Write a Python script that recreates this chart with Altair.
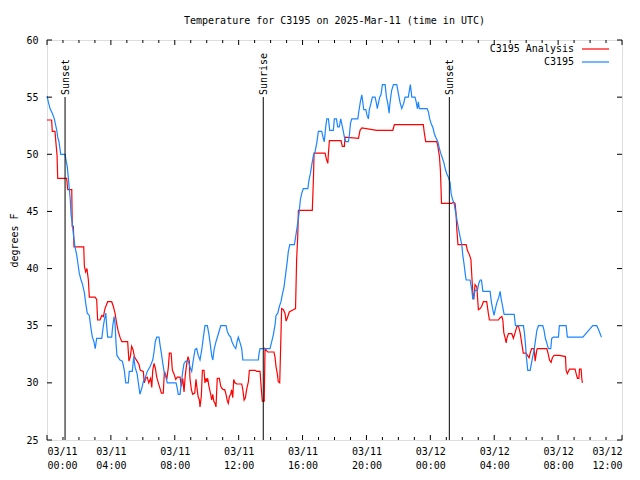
import altair as alt
import pandas as pd

# hours since 2025-03-11 00:00 UTC, temperature in degrees F
blue_h = [0.00, 0.08, 0.19, 0.33, 0.46, 0.61, 0.67, 0.75, 0.86, 1.13, 1.19, 1.27, 1.33, 1.40, 1.46, 1.50,
          1.58, 1.67, 1.75, 1.86, 1.92, 2.02, 2.13, 2.21, 2.34, 2.42, 2.52, 2.65, 2.74, 2.84, 2.94, 3.02,
          3.11, 3.43, 3.51, 3.59, 3.68, 3.74, 3.80, 4.05, 4.11, 4.20, 4.26, 4.32, 4.38, 4.57, 4.72, 4.84,
          4.93, 5.09, 5.15, 5.34, 5.43, 5.51, 5.64, 5.72, 5.82, 5.93, 6.03, 6.14, 6.28, 6.45, 6.62, 6.70,
          6.78, 6.87, 7.01, 7.08, 7.16, 7.25, 7.33, 7.45, 7.53, 8.08, 8.16, 8.22, 8.33, 8.41, 8.50, 8.58,
          8.69, 8.85, 8.95, 9.06, 9.16, 9.27, 9.37, 9.47, 9.58, 9.69, 9.79, 9.89, 10.04, 10.13, 10.21, 10.31,
          10.38, 10.46, 10.58, 10.73, 10.88, 11.21, 11.29, 11.38, 11.50, 11.58, 11.71, 11.82, 11.90, 11.98,
          12.09, 12.19, 12.26, 13.23, 13.28, 13.34, 13.96, 14.07, 14.17, 14.28, 14.34, 14.45, 14.55, 14.65,
          14.73, 14.84, 14.95, 15.03, 15.11, 15.20, 15.49, 15.57, 15.70, 15.78, 15.86, 15.95, 16.05, 16.33,
          16.41, 16.49, 16.58, 16.68, 16.78, 16.89, 16.99, 17.20, 17.30, 17.36, 17.45, 17.52, 17.62, 17.70,
          17.93, 17.99, 18.12, 18.20, 18.30, 18.39, 18.45, 18.54, 18.62, 18.70, 18.87, 18.94, 19.00, 19.08,
          19.46, 19.54, 19.62, 19.71, 19.77, 19.83, 19.96, 20.04, 20.12, 20.18, 20.29, 20.37, 20.54, 20.62,
          20.68, 20.75, 20.83, 20.91, 21.00, 21.17, 21.25, 21.33, 21.42, 21.46, 21.52, 21.58, 21.69, 21.90,
          22.00, 22.11, 22.21, 22.34, 22.42, 22.62, 22.69, 22.75, 22.84, 23.04, 23.11, 23.19, 23.25, 23.31,
          23.80, 23.88, 23.96, 24.05, 24.17, 24.25, 24.34, 24.47, 24.57, 24.65, 24.75, 24.86, 24.92, 25.03,
          25.13, 25.24, 25.30, 25.38, 25.49, 25.57, 25.66, 25.76, 25.86, 25.97, 26.03, 26.12, 26.18, 26.24,
          26.49, 26.60, 26.66, 26.74, 26.80, 26.95, 27.03, 27.12, 27.20, 27.29, 27.74, 27.83, 27.91, 27.99,
          28.06, 28.16, 28.29, 28.37, 28.43, 28.51, 28.62, 29.25, 29.33, 29.83, 29.89, 29.95, 30.01, 30.10,
          30.25, 30.33, 30.41, 30.50, 30.58, 30.67, 30.77, 31.04, 31.12, 31.20, 31.29, 31.39, 31.54, 31.60,
          31.71, 32.02, 32.08, 32.50, 32.58, 33.55, 34.17, 34.42, 34.55, 34.71]
blue_t = [55.1, 54.6, 54.0, 53.6, 53.1, 52.1, 51.5, 51.1, 50.0, 50.0, 49.5, 48.9, 48.0, 46.9, 46.0, 44.8,
          44.0, 42.8, 41.9, 41.2, 40.6, 39.6, 39.0, 38.7, 37.9, 37.0, 36.1, 35.9, 34.9, 34.0, 33.6, 33.0,
          33.9, 33.9, 34.8, 35.5, 36.1, 34.9, 34.0, 34.0, 34.9, 35.8, 35.2, 33.5, 32.4, 32.0, 31.9, 31.1,
          30.0, 30.0, 31.0, 31.0, 32.3, 31.4, 30.8, 30.0, 29.0, 29.5, 30.1, 30.4, 31.0, 31.4, 32.0, 32.7,
          33.6, 34.0, 34.0, 33.3, 32.6, 31.7, 31.0, 30.5, 30.0, 30.0, 29.5, 29.0, 29.0, 30.0, 31.0, 31.7,
          31.9, 31.9, 31.4, 31.0, 32.0, 32.9, 33.0, 32.4, 32.0, 32.9, 34.0, 35.0, 35.0, 34.3, 33.5, 32.4,
          32.0, 32.9, 33.6, 34.3, 35.0, 35.0, 34.5, 34.2, 34.0, 33.6, 33.2, 33.0, 33.6, 34.0,
          33.5, 33.0, 32.0, 32.0, 32.6, 33.0, 33.0, 33.6, 34.2, 35.1, 35.9, 36.1, 36.7, 37.1,
          37.7, 38.4, 39.6, 40.5, 41.5, 42.1, 42.1, 42.8, 44.0, 44.8, 46.0, 46.6, 47.0, 47.0,
          47.8, 48.3, 49.1, 49.9, 50.2, 51.0, 52.0, 52.0, 51.4, 51.1, 52.4, 53.1, 53.1, 52.1,
          52.1, 53.1, 53.1, 52.4, 52.4, 53.1, 52.7, 52.1, 51.5, 51.1, 51.1, 51.8, 52.7, 53.1,
          53.1, 53.9, 54.6, 55.2, 54.6, 53.9, 53.9, 53.4, 53.1, 53.9, 54.5, 55.0, 55.0, 54.5,
          54.0, 54.5, 55.0, 55.2, 56.1, 56.1, 55.0, 54.5, 53.6, 54.3, 55.0, 55.6, 56.1, 56.1,
          55.3, 54.5, 54.0, 54.5, 55.0, 55.0, 55.6, 56.1, 55.0, 55.0, 54.6, 54.0, 54.6, 54.0,
          54.0, 53.7, 53.1, 52.7, 52.3, 51.8, 51.5, 51.1, 50.5, 50.1, 49.7, 49.2, 48.8, 48.3,
          48.0, 47.5, 46.6, 46.1, 45.7, 45.0, 44.3, 43.5, 42.8, 42.1, 41.2, 40.3, 39.6, 39.0,
          39.0, 38.1, 37.3, 37.7, 38.1, 38.1, 38.7, 39.0, 39.0, 38.0, 38.0, 37.0, 36.4, 35.9,
          36.4, 37.0, 37.5, 38.0, 37.4, 36.8, 36.0, 36.0, 35.0, 35.0, 34.4, 33.5, 32.3, 31.1,
          31.1, 31.7, 32.3, 32.9, 33.7, 34.6, 35.0, 35.0, 34.6, 33.9, 33.5, 33.0, 33.0, 33.9,
          34.0, 34.0, 35.0, 35.0, 34.0, 34.0, 35.0, 35.0, 34.6, 34.0]

red_h = [0.00, 0.29, 0.33, 0.50, 0.56, 0.63, 0.67, 1.23, 1.30, 1.55, 1.58, 1.65, 1.69, 2.30, 2.34, 2.42,
         2.50, 2.59, 2.65, 3.01, 3.11, 3.17, 3.32, 3.43, 3.53, 3.63, 3.80, 4.05, 4.15, 4.26, 4.36, 4.46,
         4.57, 4.68, 5.05, 5.13, 5.22, 5.30, 5.39, 5.47, 5.55, 5.64, 5.76, 5.84, 6.03, 6.09, 6.18, 6.28,
         6.37, 6.49, 6.56, 6.62, 6.70, 6.78, 6.87, 6.97, 7.08, 7.16, 7.28, 7.35, 7.43, 7.50, 7.60, 7.66,
         7.77, 7.85, 7.95, 8.06, 8.16, 8.33, 8.41, 8.50, 8.58, 8.66, 8.75, 8.83, 8.91, 8.95, 9.04, 9.12,
         9.25, 9.33, 9.37, 9.46, 9.54, 9.58, 9.66, 9.73, 9.83, 9.89, 9.96, 10.00, 10.06, 10.14, 10.25, 10.31,
         10.38, 10.44, 10.52, 10.58, 10.66, 10.79, 10.88, 10.96, 11.04, 11.13, 11.21, 11.29, 11.35, 11.42,
         11.50, 11.56, 11.63, 11.69, 11.77, 11.88, 12.19, 12.26, 12.34, 12.42, 12.51, 12.61, 12.67, 13.04,
         13.13, 13.34, 13.40, 13.48, 13.60, 13.65, 13.82, 14.21, 14.28, 14.34, 14.42, 14.48, 14.57, 14.63,
         14.69, 14.80, 14.90, 14.97, 15.05, 15.17, 15.42, 15.56, 15.63, 15.70, 15.74, 16.61, 16.68, 16.72,
         17.41, 17.49, 17.58, 17.62, 17.68, 18.41, 18.49, 18.62, 18.66, 19.50, 19.60, 19.71, 20.65, 21.65,
         21.75, 23.56, 23.63, 23.71, 24.40, 24.46, 24.57, 24.63, 24.67, 24.70, 25.34, 25.44, 25.55, 25.61,
         25.66, 25.73, 26.24, 26.32, 26.45, 26.54, 26.60, 26.66, 26.72, 26.80, 26.91, 27.01, 27.12, 27.22,
         27.32, 27.53, 27.63, 27.70, 28.26, 28.37, 28.48, 28.54, 28.60, 28.69, 28.75, 28.79, 28.89, 29.10,
         29.20, 29.31, 29.41, 29.51, 29.62, 29.72, 29.82, 29.99, 30.18, 30.25, 30.35, 30.50, 30.56, 30.67,
         30.70, 31.29, 31.37, 31.46, 31.56, 31.64, 31.75, 32.08, 32.46, 32.50, 32.58, 32.71, 33.06, 33.13,
         33.21, 33.30, 33.34, 33.44, 33.48, 33.52]
red_t = [53.0, 53.0, 52.0, 52.0, 51.0, 49.9, 47.9, 47.9, 46.9, 46.9, 43.7, 43.7, 41.9, 41.9, 40.2, 39.7,
         40.0, 39.0, 37.5, 37.5, 37.3, 35.5, 35.5, 35.9, 35.8, 36.5, 37.1, 37.1, 36.7, 36.1, 35.2, 34.5,
         34.0, 33.6, 33.6, 31.9, 32.3, 33.2, 32.9, 32.3, 32.1, 31.9, 31.6, 31.1, 31.0, 30.0, 30.4, 30.5,
         30.0, 30.4, 29.6, 31.1, 31.7, 31.3, 30.5, 30.0, 29.5, 29.1, 29.1, 31.0, 30.7, 30.3, 31.4, 32.6,
         32.6, 31.1, 30.8, 30.3, 30.5, 30.5, 29.7, 30.4, 29.2, 30.7, 31.7, 32.3, 31.9, 30.4, 29.4, 29.0,
         29.1, 30.3, 29.8, 28.8, 28.5, 27.9, 28.8, 31.1, 31.1, 30.0, 30.4, 30.1, 30.4, 29.7, 29.0, 28.5,
         29.0, 28.4, 28.2, 27.9, 30.4, 30.4, 29.7, 29.5, 29.4, 29.4, 29.0, 28.4, 28.2, 28.8,
         29.0, 29.4, 28.7, 30.3, 30.0, 29.9, 29.9, 29.4, 28.5, 28.7, 29.5, 30.1, 31.1, 31.1,
         31.0, 31.0, 29.8, 28.4, 28.4, 33.0, 32.7, 32.7, 32.2, 31.4, 30.8, 30.1, 30.0, 33.2,
         36.5, 36.4, 36.1, 35.4, 35.7, 36.2, 36.4, 36.5, 40.8, 42.9, 45.1, 45.1, 47.8, 50.1,
         50.1, 49.6, 49.2, 50.1, 51.2, 51.2, 50.7, 50.7, 51.5, 51.4, 52.1, 52.3, 52.1, 52.1,
         52.6, 52.6, 51.8, 51.1, 51.1, 50.8, 49.8, 48.6, 47.0, 45.7, 45.7, 45.8, 45.7, 44.8,
         43.4, 42.1, 42.1, 41.6, 41.2, 40.8, 39.3, 37.8, 37.3, 38.6, 38.4, 36.4, 36.5, 36.7,
         37.1, 37.1, 36.1, 35.5, 35.5, 35.7, 35.8, 35.5, 34.4, 33.9, 33.5, 33.9, 34.3, 34.3,
         33.9, 34.4, 34.9, 35.0, 34.4, 33.5, 32.6, 32.6, 32.2, 32.6, 33.0, 33.0, 31.9, 32.9,
         33.0, 33.0, 32.6, 32.0, 31.8, 32.2, 32.4, 32.4, 32.3, 31.1, 30.8, 31.2, 31.2, 30.8,
         30.4, 30.4, 31.2, 31.2, 30.4, 30.0]

sun_h = [1.13, 13.54, 25.19]
sun_labels = ["Sunset", "Sunrise", "Sunset"]

x_major = [0, 4, 8, 12, 16, 20, 24, 28, 32, 36]
x_minor = [h for h in range(0, 37) if h % 4 != 0]
y_major = [25, 30, 35, 40, 45, 50, 55, 60]

series_names = ["C3195 Analysis", "C3195"]
series_colors = ["#ff0000", "#1a85ff"]

FONT = "DejaVu Sans Mono"
W, H = 575, 400

df = pd.concat([
    pd.DataFrame({"h": red_h, "t": red_t, "s": series_names[0]}),
    pd.DataFrame({"h": blue_h, "t": blue_t, "s": series_names[1]}),
])

xscale = alt.Scale(domain=[0, 36], nice=False, zero=False)
yscale = alt.Scale(domain=[25, 60], nice=False, zero=False)

label_expr = ("['03/' + (datum.value < 24 ? '11' : '12'), "
              "(datum.value % 24 < 10 ? '0' : '') + (datum.value % 24) + ':00']")

lines = alt.Chart(df).mark_line(strokeWidth=1.2, interpolate="linear").encode(
    x=alt.X("h:Q", scale=xscale,
            axis=alt.Axis(values=x_major, labelExpr=label_expr, ticks=False, grid=False,
                          domain=False, labelPadding=6, labelLineHeight=14, title=None,
                          labelFont=FONT, labelFontSize=10, labelColor="black")),
    y=alt.Y("t:Q", scale=yscale,
            axis=alt.Axis(values=y_major, ticks=False, grid=False, domain=False,
                          labelPadding=9, title="degrees F", titlePadding=6,
                          titleFont=FONT, titleFontSize=10, titleFontWeight="normal",
                          labelFont=FONT, labelFontSize=10, labelColor="black", titleColor="black")),
    color=alt.Color("s:N", scale=alt.Scale(domain=series_names, range=series_colors), legend=None),
    detail="s:N",
)

sun_df = pd.DataFrame({"h": sun_h, "label": sun_labels})
sun_rules = alt.Chart(sun_df).mark_rule(color="black", strokeWidth=1).encode(
    x=alt.X("h:Q", scale=xscale), y=alt.value(57), y2=alt.value(H))
sun_text = alt.Chart(sun_df).mark_text(angle=270, align="left", baseline="middle", font=FONT,
                                        fontSize=10, color="black", dy=1).encode(
    x=alt.X("h:Q", scale=xscale), y=alt.value(55), text="label:N")

xmaj = pd.DataFrame({"h": x_major})
xmin = pd.DataFrame({"h": x_minor})
ymaj = pd.DataFrame({"v": y_major})

tick_layers = [
    alt.Chart(xmaj).mark_rule(color="black").encode(x=alt.X("h:Q", scale=xscale), y=alt.value(H), y2=alt.value(H - 5)),
    alt.Chart(xmaj).mark_rule(color="black").encode(x=alt.X("h:Q", scale=xscale), y=alt.value(0), y2=alt.value(5)),
    alt.Chart(xmin).mark_rule(color="black").encode(x=alt.X("h:Q", scale=xscale), y=alt.value(H), y2=alt.value(H - 3)),
    alt.Chart(xmin).mark_rule(color="black").encode(x=alt.X("h:Q", scale=xscale), y=alt.value(0), y2=alt.value(3)),
    alt.Chart(ymaj).mark_rule(color="black").encode(y=alt.Y("v:Q", scale=yscale), x=alt.value(0), x2=alt.value(5)),
    alt.Chart(ymaj).mark_rule(color="black").encode(y=alt.Y("v:Q", scale=yscale), x=alt.value(W), x2=alt.value(W - 5)),
]

legend_layers = []
for i, (name, col) in enumerate(zip(series_names, series_colors)):
    ly = 9 + 13 * i
    legend_layers.append(
        alt.Chart(pd.DataFrame({"s": [name]})).mark_text(align="right", baseline="middle", font=FONT,
                                                         fontSize=10, color="black").encode(
            x=alt.value(527), y=alt.value(ly), text="s:N"))
    legend_layers.append(
        alt.Chart(pd.DataFrame({"s": [name]})).mark_rule(color=col, strokeWidth=1.2).encode(
            x=alt.value(535), x2=alt.value(562), y=alt.value(ly)))

chart = alt.layer(lines, sun_rules, sun_text, *tick_layers, *legend_layers).properties(
    width=W, height=H,
    title=alt.TitleParams("Temperature for C3195 on 2025-Mar-11 (time in UTC)", font=FONT,
                          fontSize=10, fontWeight="normal", anchor="middle", offset=9, color="black"),
    autosize=alt.AutoSizeParams(type="none"),
    padding={"left": 39, "top": 32, "right": 10, "bottom": 32},
).configure_view(stroke="black", strokeWidth=1).configure(background="white")

chart.save("out.html", embed_options={"renderer": "svg", "actions": False})
